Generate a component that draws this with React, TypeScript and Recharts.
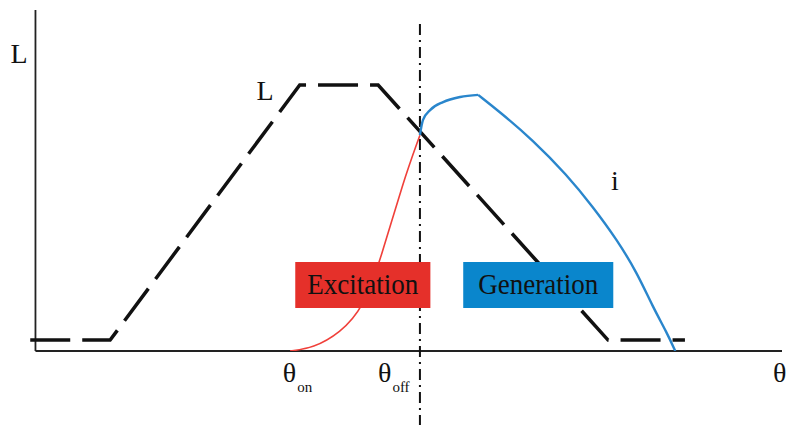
import React from 'react';
import { ComposedChart, Line, XAxis, YAxis, ReferenceLine, ReferenceArea, ReferenceDot } from 'recharts';

// Rotor position (arbitrary units) and phase inductance profile
const inductanceTheta = [-0.7, 10, 35.4, 45.9, 76.7, 87];
const inductanceValue = [3.2, 3.2, 78, 78, 3.2, 3.2];

// Phase current while the switches conduct (θon .. θoff)
const excitationTheta = [34.1, 37.2, 40.8, 43.9, 46.3, 49.2, 51.5];
const excitationCurrent = [0, 0.9, 5.3, 12.6, 27.3, 49.3, 63.3];

// Phase current after turn-off, returned to the supply
const generationTheta = [51.5, 51.9, 52.9, 54.6, 56.9, 59.3, 62.2, 66.6, 71.2, 74.7, 77.9, 80.6, 82.7, 84.6, 85.7];
const generationCurrent = [63.3, 67.7, 70.7, 73.0, 74.5, 75.1, 70.1, 61.9, 51.6, 42.2, 32.6, 22.9, 12.9, 5.3, 0];

const thetaOn = 34.1;
const thetaOff = 51.5;

const toPoints = (xs: number[], ys: number[]) => xs.map((theta, i) => ({ theta, value: ys[i] }));

const inductanceData = toPoints(inductanceTheta, inductanceValue);
const excitationData = toPoints(excitationTheta, excitationCurrent);
const generationData = toPoints(generationTheta, generationCurrent);

// split at the current peak so the knee stays sharp
const peakIdx = generationCurrent.indexOf(Math.max(...generationCurrent));
const generationRise = generationData.slice(0, peakIdx + 1);
const generationFall = generationData.slice(peakIdx);

const FONT = '"Liberation Serif", "Times New Roman", serif';
const W = 786;
const H = 425;
const MARGIN = { top: 10, right: 4, bottom: 74, left: 28 };

const BoxLabel = ({ viewBox, text, len }: any) => {
    const { x, y, width, height } = viewBox;
    return (
        <text
            x={x + width / 2}
            y={y + height / 2 + 9}
            textAnchor="middle"
            fontFamily={FONT}
            fontSize={29}
            fill="#111"
            textLength={len}
            lengthAdjust="spacingAndGlyphs"
        >
            {text}
        </text>
    );
};

// plain text anchored at a data point
const textAt = (label: string, sub?: string) => (p: any) => (
    <text x={p.cx} y={p.cy} textAnchor="middle" fontFamily={FONT} fontSize={28} fill="#111">
        {label}
        {sub && (
            <tspan dx={1} dy={10} fontSize={15}>
                {sub}
            </tspan>
        )}
    </text>
);

const axes = [
    <XAxis key="x" type="number" dataKey="theta" domain={[-1, 100]} allowDataOverflow hide />,
    <YAxis key="y" type="number" dataKey="value" domain={[0, 100]} allowDataOverflow hide />,
];

const App = () => {
    return (
        <div style={{ position: 'relative', width: W, height: H, background: '#fff' }}>
            <style>{'body{margin:0}'}</style>
            <ComposedChart width={W} height={H} margin={MARGIN}>
                {axes}

                {/* axes */}
                <ReferenceLine segment={[{ x: 0, y: 0 }, { x: 0, y: 100 }]} stroke="#222" strokeWidth={1.8} />
                <ReferenceLine segment={[{ x: 0, y: 0 }, { x: 100, y: 0 }]} stroke="#222" strokeWidth={1.8} />

                {/* turn-off angle */}
                <ReferenceLine
                    segment={[{ x: thetaOff, y: -22 }, { x: thetaOff, y: 97 }]}
                    ifOverflow="visible"
                    stroke="#111"
                    strokeWidth={2}
                    strokeDasharray="11 5 2 5"
                />

                <Line
                    data={inductanceData}
                    dataKey="value"
                    type="linear"
                    stroke="#111"
                    strokeWidth={3.5}
                    strokeDasharray="40 12"
                    dot={false}
                    isAnimationActive={false}
                />
                <Line
                    data={excitationData}
                    dataKey="value"
                    type="basis"
                    stroke="#f0403a"
                    strokeWidth={1.6}
                    dot={false}
                    isAnimationActive={false}
                />
                <Line
                    data={generationRise}
                    dataKey="value"
                    type="monotone"
                    stroke="#2a86cc"
                    strokeWidth={2.4}
                    dot={false}
                    isAnimationActive={false}
                />
                <Line
                    data={generationFall}
                    dataKey="value"
                    type="basis"
                    stroke="#2a86cc"
                    strokeWidth={2.4}
                    dot={false}
                    isAnimationActive={false}
                />

                <ReferenceDot x={-2.2} y={84.5} ifOverflow="visible" shape={textAt('L')} />
                <ReferenceDot x={30.75} y={73.6} ifOverflow="visible" shape={textAt('L')} />
                <ReferenceDot x={77.6} y={47.2} ifOverflow="visible" shape={textAt('i')} />
                <ReferenceDot x={99.7} y={-9.1} ifOverflow="visible" shape={textAt('θ')} />
                <ReferenceDot x={thetaOn + 1} y={-9.1} ifOverflow="visible" shape={textAt('θ', 'on')} />
                <ReferenceDot x={thetaOff - 3.5} y={-9.1} ifOverflow="visible" shape={textAt('θ', 'off')} />
            </ComposedChart>

            {/* region tags sit above the curves */}
            <div style={{ position: 'absolute', left: 0, top: 0 }}>
                <ComposedChart width={W} height={H} margin={MARGIN} data={inductanceData}>
                    {axes}
                    <ReferenceArea
                        x1={34.8}
                        x2={52.9}
                        y1={12.6}
                        y2={26.1}
                        fill="#e5302a"
                        fillOpacity={1}
                        stroke="none"
                        label={<BoxLabel text="Excitation" len={111} />}
                    />
                    <ReferenceArea
                        x1={57.3}
                        x2={77.4}
                        y1={12.6}
                        y2={26.1}
                        fill="#0a86cc"
                        fillOpacity={1}
                        stroke="none"
                        label={<BoxLabel text="Generation" len={120} />}
                    />
                </ComposedChart>
            </div>
        </div>
    );
};

export default App;
